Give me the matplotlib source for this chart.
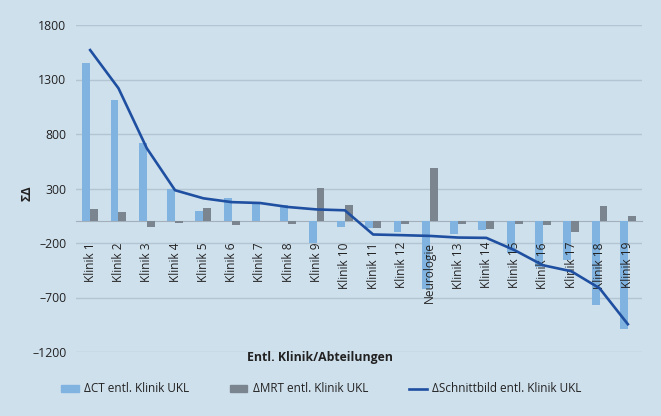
import matplotlib
matplotlib.use("Agg")
import matplotlib.pyplot as plt
import numpy as np
from matplotlib.patches import Patch
from matplotlib.lines import Line2D

categories = ["Klinik 1", "Klinik 2", "Klinik 3", "Klinik 4", "Klinik 5", "Klinik 6",
              "Klinik 7", "Klinik 8", "Klinik 9", "Klinik 10", "Klinik 11", "Klinik 12",
              "Neurologie", "Klinik 13", "Klinik 14", "Klinik 15", "Klinik 16", "Klinik 17",
              "Klinik 18", "Klinik 19"]
ct = [1452, 1110, 715, 294, 92, 210, 173, 147, -202, -52, -65, -103,
      -625, -122, -77, -290, -420, -358, -770, -990]
mrt = [110, 83, -52, -15, 119, -34, 0, -25, 302, 147, -61, -28,
       485, -28, -76, -28, -35, -100, 138, 49]
schnitt = [1570, 1220, 670, 284, 210, 175, 167, 130, 108, 100, -122, -128,
           -135, -150, -153, -266, -404, -459, -615, -945]
yticks = [-1200, -700, -200, 300, 800, 1300, 1800]

bg = "#cfe0ed"
ct_col = "#80b3df"
mrt_col = "#7b858f"
line_col = "#1f4fa0"
txt = "#222222"

plt.rcParams['font.family'] = ['Open Sans', 'DejaVu Sans']
fig = plt.figure(figsize=(6.61, 4.16), dpi=100, facecolor=bg)
ax = fig.add_axes([76/661, 1 - 352/416, (642-76)/661, (352-25)/416])
ax.set_facecolor(bg)

x = np.arange(len(categories))
w = 0.28
ax.bar(x - w/2, ct, width=w, color=ct_col, zorder=2)
ax.bar(x + w/2, mrt, width=w, color=mrt_col, zorder=2)
ax.plot(x, schnitt, color=line_col, lw=1.9, zorder=5)

ax.set_xlim(-0.5, len(categories) - 0.5)
ax.set_ylim(-1200, 1800)
ax.set_yticks(yticks)
ax.set_yticklabels([str(v).replace('-', '\u2013') for v in yticks], fontsize=8.8, color=txt)
ax.yaxis.grid(True, color="#b3c5d3", lw=1.0)
ax.set_axisbelow(True)
ax.tick_params(axis='y', length=0, pad=7)

for s in ['top', 'right', 'left']:
    ax.spines[s].set_visible(False)
ax.spines['bottom'].set_position(('data', 0))
ax.spines['bottom'].set_color("#a3b0bb")
ax.spines['bottom'].set_zorder(1.5)
ax.set_xticks(x)
ax.set_xticklabels(categories, rotation=90, fontsize=8.6, color=txt)
ax.tick_params(axis='x', length=0, pad=15)
ax.xaxis.set_zorder(4)

fig.text(27/661, 1 - 193/416, "ΣΔ", rotation=90, fontsize=9, fontweight='bold',
         ha='center', va='center', color=txt)
fig.text(320/661, 1 - 358/416, "Entl. Klinik/Abteilungen", fontsize=8.8, fontweight='bold',
         ha='center', va='center', color=txt)

handles = [Patch(color=ct_col), Patch(color=mrt_col), Line2D([0], [0], color=line_col, lw=1.9)]
labels = ["ΔCT entl. Klinik UKL", "ΔMRT entl. Klinik UKL", "ΔSchnittbild entl. Klinik UKL"]
fig.legend(handles, labels, ncol=3, loc='center left', bbox_to_anchor=(52/661, 1 - 389/416),
           frameon=False, fontsize=8.5, handlelength=1.45, handleheight=0.6,
           handletextpad=0.45, columnspacing=3.5, labelcolor=txt, borderpad=0.3)

fig.savefig("out.png", dpi=100, facecolor=bg)
